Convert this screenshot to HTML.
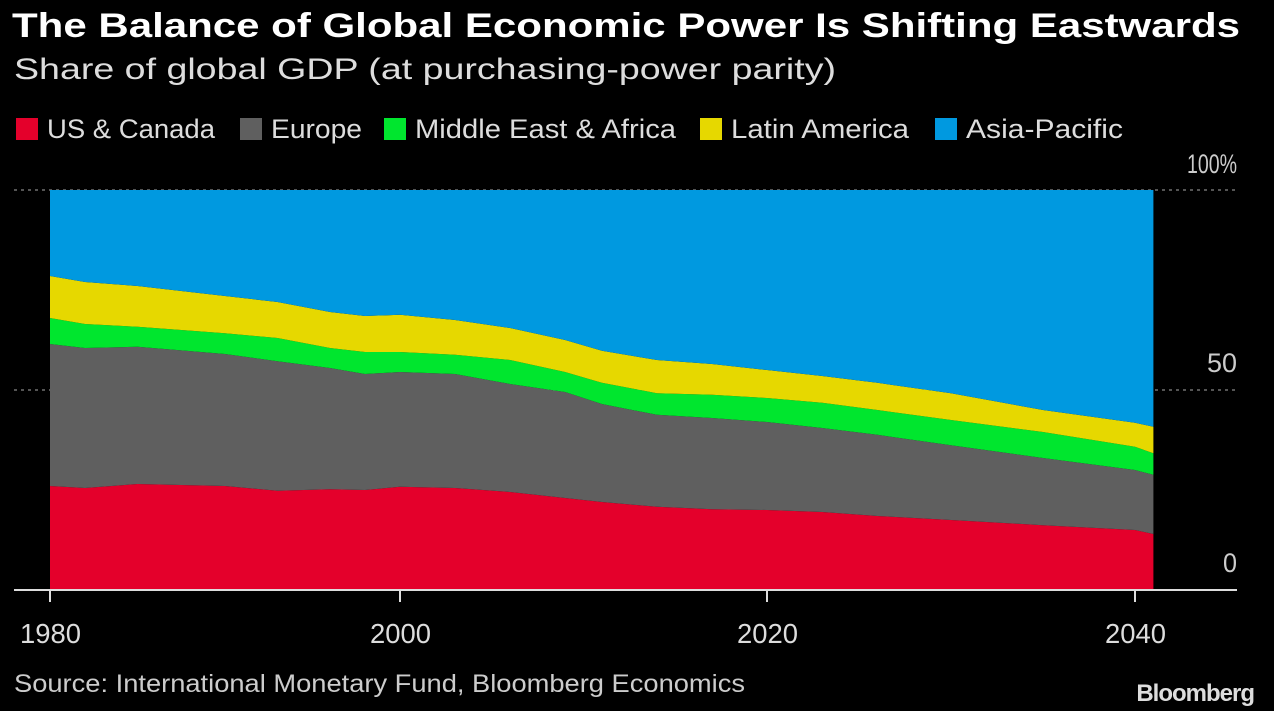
<!DOCTYPE html>
<html><head><meta charset="utf-8"><style>
body{margin:0;background:#000;width:1274px;height:711px;overflow:hidden;font-family:"Liberation Sans",sans-serif;color:#fff}
svg{position:absolute;left:0;top:0}
</style></head><body>
<svg width="1274" height="711" xmlns="http://www.w3.org/2000/svg" id="chart">
<text x="12" y="37" font-size="34" font-weight="bold" fill="#fff" textLength="1228" lengthAdjust="spacingAndGlyphs">The Balance of Global Economic Power Is Shifting Eastwards</text>
<text x="14" y="79" font-size="30" fill="#ddd" textLength="822" lengthAdjust="spacingAndGlyphs">Share of global GDP (at purchasing-power parity)</text>
<g id="legend"></g>
<g id="grid"></g>
<g id="areas"></g>
<g id="axes"></g>
<text x="14" y="692" font-size="25" fill="#ccc" textLength="731" lengthAdjust="spacingAndGlyphs">Source: International Monetary Fund, Bloomberg Economics</text>
<text x="1254" y="701" font-size="24" font-weight="bold" fill="#ddd" text-anchor="end" letter-spacing="-1">Bloomberg</text>
</svg>
<script>
const years=[1980,1982,1985,1990,1993,1996,1998,2000,2003,2006,2009,2011,2014,2017,2020,2023,2026,2030,2035,2040,2041];
const usCanada=[26,25.5,26.5,26,24.8,25.2,25,25.8,25.5,24.5,23,22,20.8,20.2,20,19.5,18.5,17.5,16.2,15,14];
const europe=[35.5,35,34.3,33,32.4,30.3,29,28.7,28.5,27,26.5,24.5,23,22.8,22,21,20.3,18.7,16.8,15,14.8];
const middleEastAfrica=[6.5,6,5,5.2,5.8,5,5.5,5,4.8,6,5,5.3,5.4,5.8,6,6.3,6.2,6.3,6.5,5.8,5.4];
const latinAmerica=[10.5,10.5,10.2,9.3,9,9,9,9.3,8.7,8,8,8,8.3,7.7,7,6.7,6.8,6.7,5.5,6,6.6];
const asiaPacific=[21.5,23,24,26.5,28,30.5,31.5,31.2,32.5,34.5,37.5,40.2,42.5,43.5,45,46.5,48.2,50.8,55,58.2,59.2];
const seriesNames=["US & Canada","Europe","Middle East & Africa","Latin America","Asia-Pacific"];
const yTicks=[0,50,100];
const yTickLabels=["0","50","100%"];
const xTicks=[1980,2000,2020,2040];

const colors=["#e4002b","#5f5f5f","#00e62e","#e6d800","#0099e0"];
const NS="http://www.w3.org/2000/svg";
const tickYrs=[1980,2000,2020,2040,2060],tickPx=[50,400,767,1135,1503];
function xs(y){for(let i=0;i<tickYrs.length-1;i++){if(y<=tickYrs[i+1]||i==tickYrs.length-2){return tickPx[i]+(y-tickYrs[i])/(tickYrs[i+1]-tickYrs[i])*(tickPx[i+1]-tickPx[i]);}}}
function ys(v){return 590-v*4;}
function mk(t,a,p){const e=document.createElementNS(NS,t);for(const k in a)e.setAttribute(k,a[k]);p.appendChild(e);return e;}
const series=[usCanada,europe,middleEastAfrica,latinAmerica,asiaPacific];
const grid=document.getElementById('grid');
const yLabW=[14,30,50];
yTicks.forEach((t,i)=>{
 if(t>0){const l=mk('line',{x1:14,x2:1237,y1:ys(t),y2:ys(t),stroke:'#888','stroke-dasharray':'3,4','stroke-width':1.2},grid);
 
 }
 const tx=mk('text',{x:1237,y:ys(t)+(t==100?-17:-18),'font-size':27,fill:'#ccc','text-anchor':'end',textLength:yLabW[i],lengthAdjust:'spacingAndGlyphs'},grid);
 tx.textContent=yTickLabels[i];
 
 
});
const areas=document.getElementById('areas');
let base=years.map(()=>0);
series.forEach((s,si)=>{
 const top=base.map((b,i)=>b+s[i]);
 let d='';
 years.forEach((y,i)=>{d+=(i?'L':'M')+xs(y).toFixed(1)+','+ys(top[i]).toFixed(1);});
 for(let i=years.length-1;i>=0;i--)d+='L'+xs(years[i]).toFixed(1)+','+ys(base[i]).toFixed(1);
 const p=mk('path',{d:d+'Z',fill:colors[si]},areas);
 
 
 base=top;
});
const axes=document.getElementById('axes');
const ax=mk('line',{x1:14,x2:1237,y1:590,y2:590,stroke:'#ddd','stroke-width':2},axes);


xTicks.forEach(t=>{
 const tk=mk('line',{x1:xs(t),x2:xs(t),y1:590,y2:602,stroke:'#ddd','stroke-width':2},axes);
 
 
 const tx=mk('text',{x:xs(t)-30,y:643,'font-size':28,fill:'#ddd',textLength:61,lengthAdjust:'spacingAndGlyphs'},axes);
 tx.textContent=t;
 
 
});
const lg=document.getElementById('legend');
const lx=[16,240,384,700,935];
const lw=[168,91,261,178,157];
seriesNames.forEach((n,i)=>{
 const g=mk('g',{},lg);
 
 
 mk('rect',{x:lx[i],y:118,width:22,height:22,fill:colors[i]},g);
 const t=mk('text',{x:lx[i]+31,y:138,'font-size':27,fill:'#ddd',textLength:lw[i],lengthAdjust:'spacingAndGlyphs'},g);
 t.textContent=n;
});
</script>
</body></html>
